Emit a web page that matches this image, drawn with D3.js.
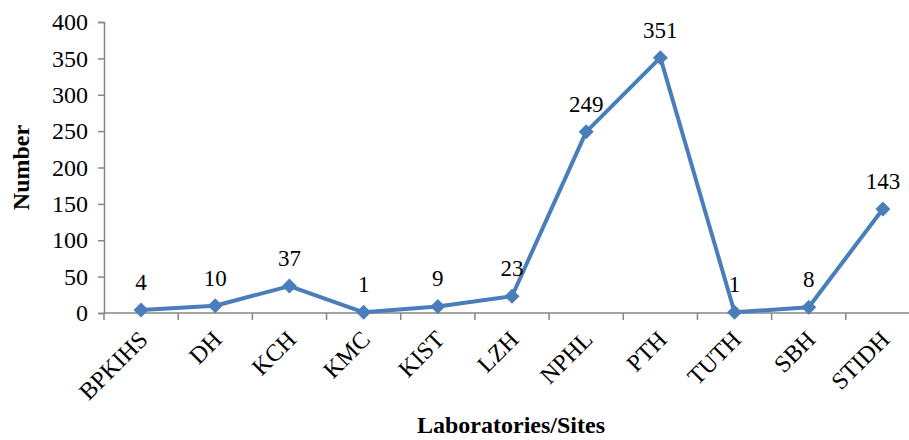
<!DOCTYPE html>
<html>
<head>
<meta charset="utf-8">
<script src="https://cdn.jsdelivr.net/npm/d3@7"></script>
<style>
  body { margin: 0; background: #fff; }
  svg text { font-family: "Liberation Serif", "Times New Roman", serif !important; }
</style>
</head>
<body>
<div class="chart"></div>
<script>
// data
var sites = ["BPKIHS", "DH", "KCH", "KMC", "KIST", "LZH", "NPHL", "PTH", "TUTH", "SBH", "STIDH"];
var counts = [4, 10, 37, 1, 9, 23, 249, 351, 1, 8, 143];
var yTicks = [0, 50, 100, 150, 200, 250, 300, 350, 400];

var svgWidth = 909;
var svgHeight = 440;

var x0 = 104, x1 = 920;
var yTop = 22, yBottom = 313;

var svg = d3.select(".chart")
  .append("svg")
  .attr("width", svgWidth)
  .attr("height", svgHeight);

var xScale = d3.scaleBand()
  .domain(sites)
  .range([x0, x1]);

var yScale = d3.scaleLinear()
  .domain([0, 400])
  .range([yBottom, yTop]);

var axisColor = "#868686";
var lineColor = "#4a7ebb";

// y axis
var leftAxis = d3.axisLeft(yScale).tickValues(yTicks).tickSize(6).tickPadding(10);
var yG = svg.append("g")
  .attr("transform", `translate(${x0}, 0)`)
  .call(leftAxis);
yG.attr("font-family", null);
yG.select(".domain").attr("stroke", axisColor).attr("stroke-width", 1.5);
yG.selectAll(".tick line").attr("stroke", axisColor).attr("stroke-width", 1.5);
yG.selectAll(".tick text")
  .attr("fill", "#000")
  .style("font-size", "24px");

// x axis: ticks between categories
var bounds = sites.map(d => xScale(d)).concat([x1]);
svg.append("line")
  .attr("x1", x0).attr("x2", svgWidth)
  .attr("y1", yBottom).attr("y2", yBottom)
  .attr("stroke", axisColor).attr("stroke-width", 1.5);
svg.selectAll(".xtick")
  .data(bounds)
  .enter()
  .append("line")
  .attr("class", "xtick")
  .attr("x1", d => d).attr("x2", d => d)
  .attr("y1", yBottom).attr("y2", yBottom + 7)
  .attr("stroke", axisColor).attr("stroke-width", 1.5);

svg.selectAll(".xlabel")
  .data(sites)
  .enter()
  .append("text")
  .attr("class", "xlabel")
  .attr("text-anchor", "end")
  .attr("transform", d => `translate(${xScale(d) + xScale.bandwidth() / 2 + 8}, 341) rotate(-45)`)
  .style("font-size", "24px")
  .text(d => d);

// line
var pts = sites.map((s, i) => ({ site: s, value: counts[i] }));
var line = d3.line()
  .x(d => xScale(d.site) + xScale.bandwidth() / 2)
  .y(d => yScale(d.value));

svg.append("path")
  .datum(pts)
  .attr("d", line)
  .attr("fill", "none")
  .attr("stroke", lineColor)
  .attr("stroke-width", 4)
  .attr("stroke-linejoin", "round");

svg.selectAll(".marker")
  .data(pts)
  .enter()
  .append("path")
  .attr("class", "marker")
  .attr("d", "M0,-7.5L7.5,0L0,7.5L-7.5,0Z")
  .attr("transform", d => `translate(${xScale(d.site) + xScale.bandwidth() / 2}, ${yScale(d.value)})`)
  .attr("fill", lineColor);

// value labels
svg.selectAll(".vlabel")
  .data(pts)
  .enter()
  .append("text")
  .attr("class", "vlabel")
  .attr("text-anchor", "middle")
  .attr("x", d => xScale(d.site) + xScale.bandwidth() / 2)
  .attr("y", d => yScale(d.value) - 20)
  .style("font-size", "23px")
  .text(d => d.value);

// axis titles
svg.append("text")
  .attr("transform", `translate(29, ${(yTop + yBottom) / 2}) rotate(-90)`)
  .attr("text-anchor", "middle")
  .style("font-size", "24px")
  .style("font-weight", "bold")
  .text("Number");

svg.append("text")
  .attr("x", 511)
  .attr("y", 433)
  .attr("text-anchor", "middle")
  .style("font-size", "24px")
  .style("font-weight", "bold")
  .text("Laboratories/Sites");
</script>
</body>
</html>
